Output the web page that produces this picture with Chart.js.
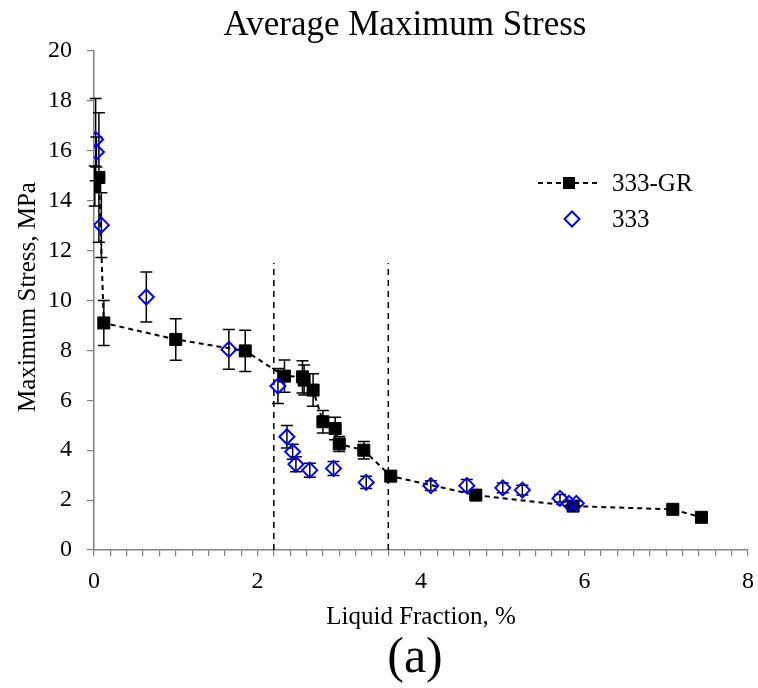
<!DOCTYPE html>
<html>
<head>
<meta charset="utf-8">
<title>Average Maximum Stress</title>
<script src="https://cdn.jsdelivr.net/npm/chart.js@4.4.1/dist/chart.umd.min.js"></script>
<style>
  html, body { margin: 0; padding: 0; background: #fff; }
  #wrap { width: 758px; height: 688px; }
</style>
</head>
<body>
<div id="wrap"><canvas id="c" width="758" height="688"></canvas></div>
<script>
// 333-GR: liquid fraction (%), average maximum stress (MPa), error (MPa)
const grX   = [0.01, 0.06, 0.12, 1.00, 1.85, 2.33, 2.55, 2.57, 2.68, 2.80, 2.95, 3.00, 3.30, 3.63, 4.67, 5.86, 7.08, 7.43];
const grY   = [14.59, 14.93, 9.10, 8.44, 7.98, 6.97, 6.94, 6.81, 6.41, 5.14, 4.87, 4.25, 4.00, 2.96, 2.20, 1.76, 1.63, 1.31];
const grErr = [0.80, 2.60, 0.90, 0.83, 0.83, 0.65, 0.65, 0.60, 0.65, 0.45, 0.45, 0.30, 0.35, 0.20, 0.10, 0.10, 0.05, 0.05];

// 333: liquid fraction (%), average maximum stress (MPa), error (MPa)
const alX   = [0.02, 0.03, 0.09, 0.64, 1.65, 2.25, 2.36, 2.43, 2.47, 2.64, 2.93, 3.33, 4.12, 4.56, 5.00, 5.24, 5.70, 5.81, 5.90];
const alY   = [16.45, 15.95, 13.02, 10.14, 8.04, 6.57, 4.54, 3.94, 3.44, 3.20, 3.27, 2.71, 2.58, 2.58, 2.49, 2.40, 2.07, 1.87, 1.87];
const alErr = [1.65, 0.60, 1.30, 1.00, 0.80, 0.70, 0.45, 0.30, 0.30, 0.28, 0.28, 0.25, 0.20, 0.25, 0.20, 0.20, 0.15, 0.10, 0.10];

// vertical boundary lines (liquid fraction, %) and their top (MPa)
const boundaryX = [2.2, 3.6];
const boundaryTop = 11.5;

const seriesNames = ['333-GR', '333'];
const xTickLabels = ['0', '2', '4', '6', '8'];

const SERIF = "'Liberation Serif', 'Times New Roman', serif";

const toPoints = (xs, ys) => xs.map((x, i) => ({ x, y: ys[i] }));

const datasets = [
  {
    label: seriesNames[0],
    data: toPoints(grX, grY),
    errors: grErr,
    showLine: true,
    borderColor: '#000',
    borderWidth: 2,
    borderDash: [5, 4],
    pointStyle: 'rect',
    pointRadius: 8.5,
    pointBackgroundColor: '#000',
    pointBorderColor: '#000',
    pointBorderWidth: 1,
    order: 1
  },
  {
    label: seriesNames[1],
    data: toPoints(alX, alY),
    errors: alErr,
    showLine: false,
    pointStyle: 'rectRot',
    pointRadius: 7.5,
    pointBackgroundColor: 'rgba(0,0,0,0)',
    pointBorderColor: '#0000ff',
    pointBorderWidth: 2,
    order: 0
  }
];

boundaryX.forEach(bx => {
  datasets.push({
    label: '',
    isBoundary: true,
    data: [{ x: bx, y: 0 }, { x: bx, y: boundaryTop }],
    showLine: true,
    borderColor: '#000',
    borderWidth: 1.5,
    borderDash: [6, 5],
    pointRadius: 0,
    order: 2
  });
});

// vertical error bars with caps
const errorBars = {
  id: 'errorBars',
  beforeDatasetsDraw(chart) {
    const { ctx, scales: { x, y } } = chart;
    ctx.save();
    ctx.strokeStyle = '#000';
    ctx.lineWidth = 1.5;
    chart.data.datasets.forEach(ds => {
      if (!ds.errors) return;
      ds.data.forEach((p, i) => {
        const e = ds.errors[i];
        const px = x.getPixelForValue(p.x);
        const top = y.getPixelForValue(p.y + e);
        const bot = y.getPixelForValue(p.y - e);
        const cap = 6;
        ctx.beginPath();
        ctx.moveTo(px, top); ctx.lineTo(px, bot);
        ctx.moveTo(px - cap, top); ctx.lineTo(px + cap, top);
        ctx.moveTo(px - cap, bot); ctx.lineTo(px + cap, bot);
        ctx.stroke();
      });
    });
    ctx.restore();
  }
};

// series key drawn inside the plot, upper right
const seriesKey = {
  id: 'seriesKey',
  afterDraw(chart) {
    const { ctx } = chart;
    const gr = chart.data.datasets[0];
    const al = chart.data.datasets[1];
    ctx.save();
    // 333-GR entry
    let yy = 183;
    ctx.strokeStyle = gr.borderColor;
    ctx.lineWidth = gr.borderWidth;
    ctx.setLineDash(gr.borderDash);
    ctx.beginPath(); ctx.moveTo(538, yy); ctx.lineTo(600, yy); ctx.stroke();
    ctx.setLineDash([]);
    ctx.fillStyle = gr.pointBackgroundColor;
    const s = gr.pointRadius * Math.SQRT1_2;
    ctx.fillRect(569 - s, yy - s, 2 * s, 2 * s);
    ctx.fillStyle = '#000';
    ctx.font = '25px ' + SERIF;
    ctx.textBaseline = 'middle';
    ctx.textAlign = 'left';
    ctx.fillText(gr.label, 612, yy + 1);
    // 333 entry
    yy = 219;
    const r = al.pointRadius;
    ctx.strokeStyle = al.pointBorderColor;
    ctx.lineWidth = al.pointBorderWidth;
    ctx.beginPath();
    ctx.moveTo(572, yy - r); ctx.lineTo(572 + r, yy); ctx.lineTo(572, yy + r); ctx.lineTo(572 - r, yy);
    ctx.closePath(); ctx.stroke();
    ctx.fillStyle = '#000';
    ctx.fillText(al.label, 612, yy + 1);
    ctx.restore();
  }
};

// chart title, axis titles and panel label
const captions = {
  id: 'captions',
  afterDraw(chart) {
    const { ctx } = chart;
    ctx.save();
    ctx.fillStyle = '#000';
    ctx.textAlign = 'center';
    ctx.textBaseline = 'alphabetic';
    ctx.font = '35px ' + SERIF;
    ctx.fillText('Average Maximum Stress', 405, 35);
    ctx.font = '25px ' + SERIF;
    ctx.fillText('Liquid Fraction, %', 421, 624);
    ctx.font = '50px ' + SERIF;
    ctx.fillText('(a)', 415, 672);
    ctx.translate(35, 297);
    ctx.rotate(-Math.PI / 2);
    ctx.font = '25px ' + SERIF;
    ctx.fillText('Maximum Stress, MPa', 0, 0);
    ctx.restore();
  }
};

new Chart(document.getElementById('c'), {
  type: 'scatter',
  data: { datasets },
  options: {
    responsive: false,
    animation: false,
    devicePixelRatio: 1,
    layout: { padding: { top: 51, right: 10, left: 0, bottom: 0 } },
    plugins: {
      legend: { display: false },
      tooltip: { enabled: false },
      title: { display: false }
    },
    scales: {
      x: {
        type: 'linear',
        min: 0,
        max: 8,
        afterFit(scale) {
          scale.height = 138;
          scale.paddingLeft = 0;
          scale.paddingRight = 0;
        },
        ticks: {
          stepSize: 0.2,
          autoSkip: false,
          maxRotation: 0,
          padding: 11,
          color: '#000',
          font: { family: SERIF, size: 24 },
          callback(value) {
            const v = Math.round(value * 10) / 10;
            if (Math.abs(v % 2) < 1e-6) return xTickLabels[Math.round(v / 2)];
            return '';
          }
        },
        grid: {
          drawOnChartArea: false,
          drawTicks: true,
          tickLength: 6,
          color: '#808080',
          lineWidth: 1.2
        },
        border: { color: '#808080', width: 1.5 }
      },
      y: {
        min: 0,
        max: 20,
        afterFit(scale) { scale.width = 94; },
        ticks: {
          stepSize: 2,
          padding: 15,
          color: '#000',
          font: { family: SERIF, size: 24 }
        },
        grid: {
          drawOnChartArea: false,
          drawTicks: true,
          tickLength: 7,
          color: '#808080',
          lineWidth: 1.2
        },
        border: { color: '#808080', width: 1.5 }
      }
    }
  },
  plugins: [errorBars, seriesKey, captions]
});
</script>
</body>
</html>
